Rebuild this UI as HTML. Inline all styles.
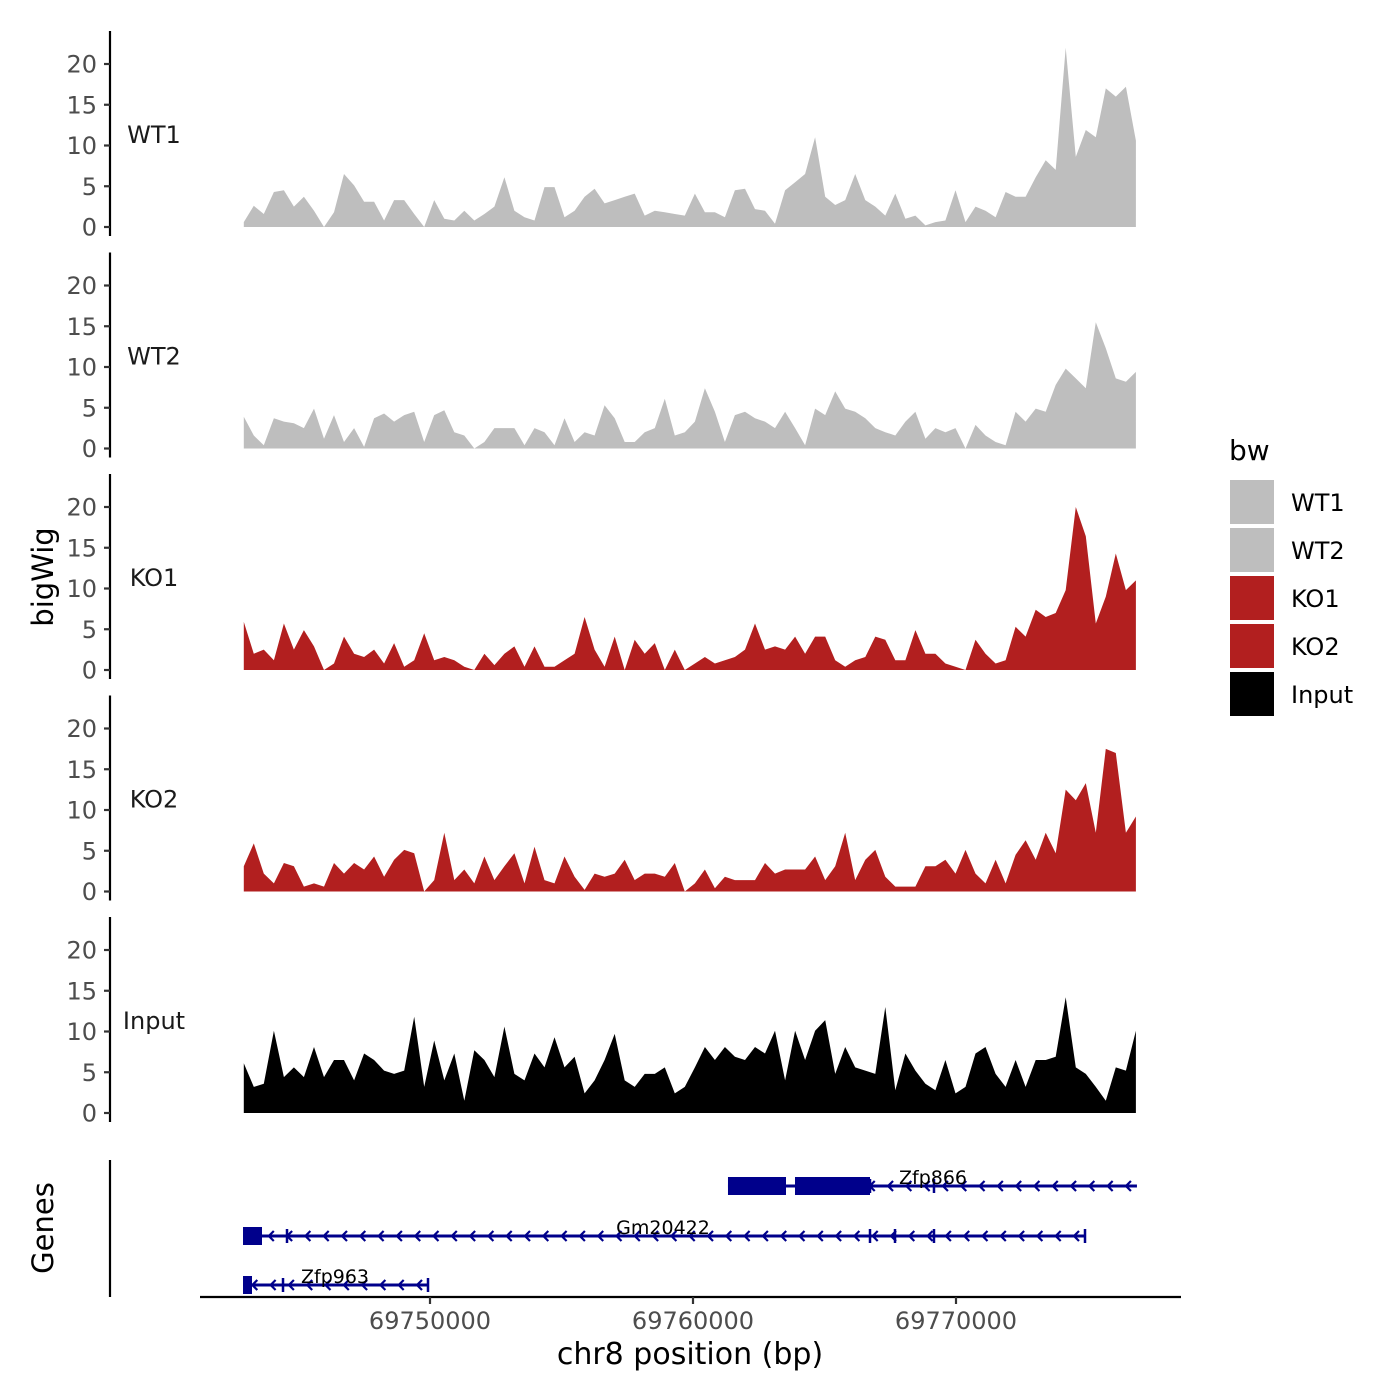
<!DOCTYPE html>
<html><head><meta charset="utf-8"><style>
html,body{margin:0;padding:0;background:#fff;}
svg{display:block;font-family:"DejaVu Sans","Liberation Sans",sans-serif;}
</style></head><body>
<svg id="chart" width="1400" height="1400" viewBox="0 0 1400 1400" xmlns="http://www.w3.org/2000/svg">
<rect width="1400" height="1400" fill="#fff"/>
<g id="tracks"></g>
<g id="genes"></g>
<g id="xaxis"></g>
<text x="0" y="0" transform="translate(53,577) rotate(-90)" text-anchor="middle" font-size="29" fill="#000">bigWig</text>
<text x="0" y="0" transform="translate(53,1228) rotate(-90)" text-anchor="middle" font-size="29" fill="#000">Genes</text>
<text x="690" y="1364" text-anchor="middle" font-size="30" fill="#000">chr8 position (bp)</text>
<g id="legend"></g>
</svg>
<script>
const trackNames = ["WT1","WT2","KO1","KO2","Input"];
const trackColors = ["#bebebe","#bebebe","#b21f1f","#b21f1f","#000000"];
const wt1 = [0.6,2.6,1.6,4.3,4.5,2.5,3.7,2.0,0,1.8,6.5,5.1,3.1,3.1,0.8,3.3,3.3,1.6,0,3.3,1.0,0.8,2.0,0.8,1.6,2.5,6.1,2.0,1.2,0.8,4.9,4.9,1.2,2.0,3.7,4.7,2.9,3.3,3.7,4.1,1.4,2.0,1.8,1.6,1.4,
4.1,1.8,1.8,1.2,4.5,4.7,2.2,2.0,0.4,4.5,5.5,6.5,11.0,3.7,2.7,3.3,6.5,3.3,2.5,1.4,4.1,1.0,1.4,0.2,0.6,0.8,4.5,0.6,2.5,2.0,1.2,4.3,3.7,3.7,6.1,8.2,7.0,22,8.6,11.9,11.0,17,16.0,17.2,10.6];
const wt2 = [3.9,1.6,0.4,3.7,3.3,3.1,2.5,4.9,1.2,4.1,0.8,2.5,0.2,3.7,4.3,3.3,4.1,4.5,0.8,4.1,4.7,2.0,1.6,0,0.8,2.5,2.5,2.5,0.4,2.5,2.0,0.4,3.7,0.8,2.0,1.6,5.3,3.7,0.8,0.8,2.0,2.5,6.1,1.6,2.0,3.3,7.4,4.5,0.8,4.1,4.5,3.7,3.3,2.5,4.5,2.5,0.4,4.9,4.1,7.0,4.9,4.5,3.7,2.5,2.0,1.6,3.3,4.5,1.2,2.5,2.0,2.5,0,2.9,1.6,0.8,0.4,4.5,3.3,4.9,4.5,7.8,9.8,8.6,7.4,15.5,12.3,8.6,8.2,9.4];
const ko1 = [5.9,2.0,2.5,1.2,5.7,2.5,4.9,2.9,0,0.8,4.1,2.0,1.6,2.5,0.8,3.3,0.4,1.2,4.5,1.2,1.6,1.2,0.4,0,2.0,0.6,2.0,2.9,0.4,2.9,0.4,0.4,1.2,2.0,6.5,2.5,0.4,4.1,0,3.7,2.0,3.3,0,2.5,0,0.8,1.6,0.8,1.2,1.6,2.5,5.7,2.5,2.9,2.5,4.1,2.0,4.1,4.1,1.2,0.4,1.2,1.6,4.1,3.7,1.2,1.2,4.9,2.0,2.0,0.8,0.4,0,3.7,2.0,0.8,1.2,5.3,4.1,7.4,6.5,7.0,9.8,20.0,16.4,5.7,9.0,14.3,9.8,11.0];
const ko2 = [3.1,5.9,2.2,1.0,3.5,3.1,0.6,1.0,0.6,3.5,2.2,3.5,2.7,4.3,1.8,3.9,5.1,4.7,0,1.4,7.2,1.4,2.7,1.0,4.3,1.4,3.1,4.7,1.0,5.5,1.4,1.0,4.3,1.8,0.2,2.2,1.8,2.2,3.9,1.4,2.2,2.2,1.8,3.5,0,1.0,2.7,0.4,1.8,1.4,1.4,1.4,3.5,2.2,2.7,2.7,2.7,4.3,1.4,3.1,7.2,1.4,3.9,5.1,1.8,0.6,0.6,0.6,3.1,3.1,3.9,2.2,5.1,2.2,1.0,3.9,1.0,4.5,6.3,3.9,7.2,4.7,12.5,11.2,13.3,7.2,17.5,17.0,7.2,9.2];
const input = [6.1,3.2,3.6,10.1,4.4,5.6,4.4,8.1,4.4,6.5,6.5,4.0,7.3,6.5,5.2,4.8,5.2,11.8,3.2,8.9,4.0,7.3,1.5,7.7,6.5,4.4,10.6,4.8,4.0,7.3,5.6,9.3,5.6,6.9,2.4,4.0,6.5,9.7,4.0,3.2,4.8,4.8,5.6,2.4,3.2,5.6,8.1,6.5,8.1,6.9,6.5,8.1,7.3,10.1,4.0,10.1,6.5,10.1,11.4,4.8,8.1,5.6,5.2,4.8,13.0,2.8,7.3,5.2,3.6,2.8,6.5,2.4,3.2,7.3,8.1,4.8,3.2,6.5,3.2,6.5,6.5,6.9,14.2,5.6,4.8,3.2,1.5,5.6,5.2,10.1];
const trackValues = [wt1,wt2,ko1,ko2,input];
const yTicks = [0,5,10,15,20];
const xTicks = [69750000,69760000,69770000];
const dataStart = 69742920, dataEnd = 69776840;
const geneNames = ["Zfp866","Gm20422","Zfp963"];
const geneStarts = [69761330,69742890,69742890];
const geneEnds = [69776880,69774905,69749924];
const geneExonStarts = [[69761330,69763878],[69742890],[69742890]];
const geneExonEnds = [[69763536,69766730],[69743612],[69743232]];
const geneMarks = [[69766730,69769163],[69744563,69766730,69767681,69769163,69774905],[69744411,69749924]];

const NS="http://www.w3.org/2000/svg";
function el(t,a,p){const e=document.createElementNS(NS,t);for(const k in a)e.setAttribute(k,a[k]);p.appendChild(e);return e;}
function xs(bp){return 430+(bp-69750000)*0.0263;}
const panelBase=[227,448.5,670,891.5,1113];
function ys(i,v){return panelBase[i]-v*8.15;}

const tracks=document.getElementById('tracks');
trackNames.forEach((nm,i)=>{
  const vals=trackValues[i];const n=vals.length;
  const g=el('g',{},tracks);
  
  
  let d='M'+xs(dataStart)+','+panelBase[i];
  vals.forEach((v,j)=>{const bp=dataStart+(dataEnd-dataStart)*j/(n-1);d+=' L'+xs(bp).toFixed(1)+','+ys(i,v).toFixed(1);});
  d+=' L'+xs(dataEnd)+','+panelBase[i]+' Z';
  const a=el('path',{d:d,fill:trackColors[i]},g);
  
  
  const ax=el('line',{x1:110,x2:110,y1:panelBase[i]-196,y2:panelBase[i]+9,stroke:'#000','stroke-width':2.2},g);
  
  
  yTicks.forEach(t=>{
    const y=ys(i,t);
    const tk=el('line',{x1:104,x2:110,y1:y,y2:y,stroke:'#333','stroke-width':2.2},g);
    
    
    const tl=el('text',{x:97,y:y+8.5,'text-anchor':'end','font-size':24,fill:'#4d4d4d'},g);
    tl.textContent=t;
    
    
  });
  const lb=el('text',{x:154,y:panelBase[i]-84,'text-anchor':'middle','font-size':24,fill:'#1a1a1a'},g);
  lb.textContent=nm;
  
  
});

const genes=document.getElementById('genes');
const gax=el('line',{x1:110,x2:110,y1:1160,y2:1297,stroke:'#000','stroke-width':2.2},genes);


const rowY=[1186,1236,1285];
const navy='#00008b';
geneNames.forEach((nm,i)=>{
  const y=rowY[i];
  const g=el('g',{},genes);
  
  
  const x1=xs(geneStarts[i]),x2=xs(geneEnds[i]);
  el('line',{x1:x1,x2:x2,y1:y,y2:y,stroke:navy,'stroke-width':3},g);
  for(let x=x2-10;x>x1+8;x-=18.3){
    el('path',{d:`M${x+4},${y-5} L${x-1},${y} L${x+4},${y+5}`,fill:'none',stroke:navy,'stroke-width':2.2},g);
  }
  geneMarks[i].forEach(b=>{el('line',{x1:xs(b),x2:xs(b),y1:y-7,y2:y+7,stroke:navy,'stroke-width':2.5},g);});
  geneExonStarts[i].forEach((s,k)=>{
    const ex=el('rect',{x:xs(s),y:y-9,width:xs(geneExonEnds[i][k])-xs(s),height:18,fill:navy},g);
    
    
  });
  const lx=[933,663,335][i];
  const t=el('text',{x:lx,y:y-2,'text-anchor':'middle','font-size':19,fill:'#000'},g);
  t.textContent=nm;
  
  
});

const xa=document.getElementById('xaxis');
const xl=el('line',{x1:200,x2:1181,y1:1297,y2:1297,stroke:'#000','stroke-width':2.2},xa);


xTicks.forEach(t=>{
  const x=xs(t);
  const tk=el('line',{x1:x,x2:x,y1:1297,y2:1304,stroke:'#333','stroke-width':2.2},xa);
  
  
  const tl=el('text',{x:x,y:1329,'text-anchor':'middle','font-size':24,fill:'#4d4d4d'},xa);
  tl.textContent=t;
  
  
});

const lg=document.getElementById('legend');
const lt=el('text',{x:1229,y:460,'font-size':28,fill:'#000'},lg);
lt.textContent='bw';


trackNames.forEach((nm,i)=>{
  const y=480+i*48;
  const r=el('rect',{x:1230,y:y,width:44,height:44,fill:trackColors[i]},lg);
  
  
  const t=el('text',{x:1291,y:y+31,'font-size':24,fill:'#000'},lg);
  t.textContent=nm;
  
  
});
</script>
</body></html>
